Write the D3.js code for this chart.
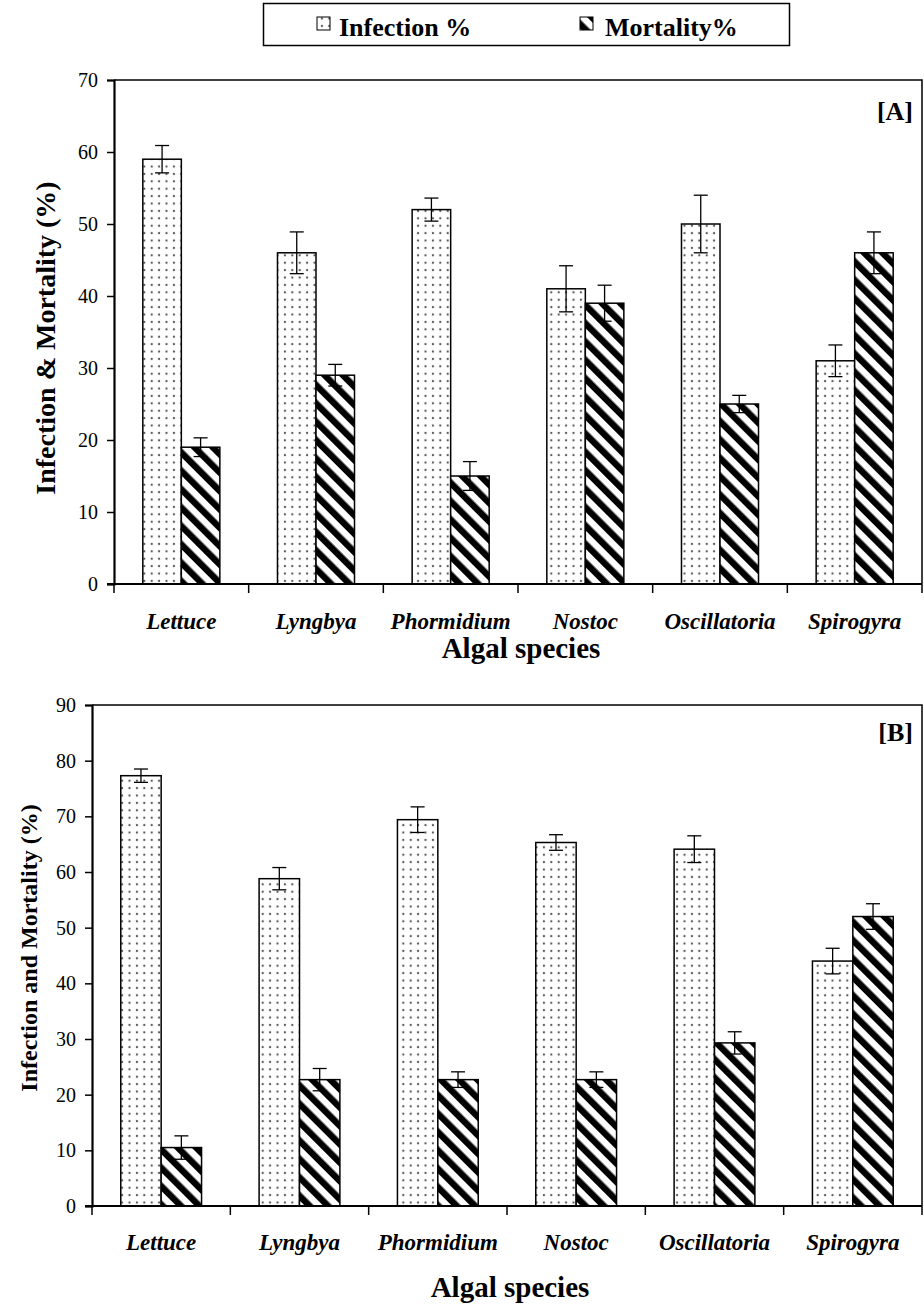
<!DOCTYPE html>
<html>
<head>
<meta charset="utf-8">
<script src="https://cdn.jsdelivr.net/npm/d3@7"></script>
<style>
  html, body { margin: 0; padding: 0; background: #fff; }
  svg { display: block; }
</style>
</head>
<body>
<svg id="chart" width="924" height="1309"></svg>
<script>
// Algal species tested
const species = ["Lettuce", "Lyngbya", "Phormidium", "Nostoc", "Oscillatoria", "Spirogyra"];

// Panel A values (%) and error half-widths
const infectionA = [59, 46, 52, 41, 50, 31];
const infectionErrA = [1.9, 2.9, 1.6, 3.2, 4.0, 2.2];
const mortalityA = [19, 29, 15, 39, 25, 46];
const mortalityErrA = [1.3, 1.5, 2.0, 2.5, 1.2, 2.9];
const ticksA = [0, 10, 20, 30, 40, 50, 60, 70];

// Panel B values (%) and error half-widths
const infectionB = [77.3, 58.8, 69.4, 65.3, 64.1, 44.0];
const infectionErrB = [1.2, 2.0, 2.3, 1.4, 2.4, 2.3];
const mortalityB = [10.5, 22.7, 22.7, 22.7, 29.3, 52.0];
const mortalityErrB = [2.1, 2.0, 1.4, 1.4, 2.0, 2.3];
const ticksB = [0, 10, 20, 30, 40, 50, 60, 70, 80, 90];

const seriesNames = ["Infection %", "Mortality%"];

const FONT = "'Liberation Serif'";

const svg = d3.select("#chart");
const defs = svg.append("defs");

// Dotted fill for infection bars
const dots = defs.append("pattern")
  .attr("id", "dots").attr("patternUnits", "userSpaceOnUse")
  .attr("width", 7.4).attr("height", 7.4);
dots.append("rect").attr("width", 7.4).attr("height", 7.4).attr("fill", "#fff");
dots.append("circle").attr("cx", 3.7).attr("cy", 3.7).attr("r", 1.15).attr("fill", "#5a5a5a");

// Wide diagonal stripes for mortality bars
const hatch = defs.append("pattern")
  .attr("id", "hatch").attr("patternUnits", "userSpaceOnUse")
  .attr("width", 13).attr("height", 13)
  .attr("patternTransform", "rotate(-45)");
hatch.append("rect").attr("width", 13).attr("height", 13).attr("fill", "#fff");
hatch.append("rect").attr("x", 0).attr("width", 6.5).attr("height", 13).attr("fill", "#000");

// Legend
const legend = svg.append("g");
legend.append("rect").attr("x", 263.5).attr("y", 3.5).attr("width", 526).attr("height", 42)
  .attr("fill", "#fff").attr("stroke", "#000").attr("stroke-width", 1.5);
const legendItems = [
  { name: seriesNames[0], fill: "url(#dots)", sx: 317, tx: 339 },
  { name: seriesNames[1], fill: "url(#hatch)", sx: 580, tx: 605 }
];
legendItems.forEach(d => {
  legend.append("rect").attr("x", d.sx).attr("y", 17).attr("width", 13).attr("height", 13)
    .attr("fill", d.fill).attr("stroke", "#000").attr("stroke-width", 1);
  legend.append("text").attr("x", d.tx).attr("y", 36)
    .style("font-family", FONT)
    .attr("font-size", 26).attr("font-weight", "bold").text(d.name);
});

function panel(opts) {
  const { left, right, top, bottom, max, ticks, inf, infErr, mort, mortErr, label, ytitle, ytitleX, ytitleSize, catY, xtitleY, barFrac } = opts;
  const g = svg.append("g");

  const x = d3.scaleBand().domain(species).range([left, right]).paddingInner(0).paddingOuter(0);
  const y = d3.scaleLinear().domain([0, max]).range([bottom, top]);
  const bw = x.bandwidth() * barFrac;

  // frame: top and right edges
  g.append("path")
    .attr("d", `M${left},${top}H${right}V${bottom}`)
    .attr("fill", "none").attr("stroke", "#000").attr("stroke-width", 1.5);

  const series = [
    { vals: inf, errs: infErr, fill: "url(#dots)", off: -bw },
    { vals: mort, errs: mortErr, fill: "url(#hatch)", off: 0 }
  ];

  series.forEach(s => {
    g.selectAll(null).data(species).enter().append("rect")
      .attr("x", d => x(d) + x.bandwidth() / 2 + s.off)
      .attr("y", (d, i) => y(s.vals[i]))
      .attr("width", bw)
      .attr("height", (d, i) => y(0) - y(s.vals[i]))
      .attr("fill", s.fill).attr("stroke", "#000").attr("stroke-width", 1.5);
  });

  // error bars
  series.forEach(s => {
    species.forEach((d, i) => {
      const cx = x(d) + x.bandwidth() / 2 + s.off + bw / 2;
      const y1 = y(s.vals[i] + s.errs[i]), y2 = y(s.vals[i] - s.errs[i]);
      const eg = g.append("g").attr("stroke", "#000").attr("stroke-width", 1.3);
      eg.append("line").attr("x1", cx).attr("x2", cx).attr("y1", y1).attr("y2", y2);
      eg.append("line").attr("x1", cx - 7).attr("x2", cx + 7).attr("y1", y1).attr("y2", y1);
      eg.append("line").attr("x1", cx - 7).attr("x2", cx + 7).attr("y1", y2).attr("y2", y2);
    });
  });

  // y axis
  const yAxis = g.append("g").attr("transform", `translate(${left},0)`)
    .call(d3.axisLeft(y).tickValues(ticks).tickSize(7).tickPadding(9).tickFormat(d3.format("d")));
  yAxis.attr("font-family", null);
  yAxis.select(".domain").attr("stroke-width", 2.2);
  yAxis.selectAll(".tick line").attr("stroke-width", 1.5);
  yAxis.selectAll("text").attr("font-size", 20).style("font-family", FONT).attr("fill", "#000");

  // x axis with boundary ticks between categories
  const xb = g.append("g").attr("transform", `translate(0,${bottom})`);
  xb.append("line").attr("x1", left - 7).attr("x2", right).attr("stroke", "#000").attr("stroke-width", 2.2);
  const bounds = species.map(d => x(d)).concat([right]);
  xb.selectAll(null).data(bounds).enter().append("line")
    .attr("x1", d => d).attr("x2", d => d).attr("y1", 0).attr("y2", 9)
    .attr("stroke", "#000").attr("stroke-width", 1.5);

  g.selectAll(null).data(species).enter().append("text")
    .attr("x", d => x(d) + x.bandwidth() / 2).attr("y", catY)
    .attr("text-anchor", "middle").attr("font-size", 23).style("font-family", FONT)
    .attr("font-weight", "bold").attr("font-style", "italic").text(d => d);

  g.append("text").attr("x", (left + right) / 2 + 3).attr("y", xtitleY)
    .attr("text-anchor", "middle").attr("font-size", 29).style("font-family", FONT)
    .attr("font-weight", "bold").text("Algal species");

  g.append("text").attr("transform", `translate(${ytitleX},${opts.ytitleY}) rotate(-90)`)
    .attr("text-anchor", "middle").attr("font-size", ytitleSize).style("font-family", FONT)
    .attr("font-weight", "bold").text(ytitle);

  g.append("text").attr("x", right - 9).attr("y", opts.labelY)
    .attr("text-anchor", "end").attr("font-size", 26).style("font-family", FONT)
    .attr("font-weight", "bold").text(label);
}

panel({
  left: 114, right: 922, top: 80, bottom: 584, max: 70, ticks: ticksA,
  inf: infectionA, infErr: infectionErrA, mort: mortalityA, mortErr: mortalityErrA,
  label: "[A]", labelY: 120, ytitle: "Infection & Mortality (%)", ytitleX: 55, ytitleY: 338, ytitleSize: 28,
  catY: 629, xtitleY: 658, barFrac: 0.286
});

panel({
  left: 92, right: 922, top: 705, bottom: 1206, max: 90, ticks: ticksB,
  inf: infectionB, infErr: infectionErrB, mort: mortalityB, mortErr: mortalityErrB,
  label: "[B]", labelY: 741, ytitle: "Infection and Mortality (%)", ytitleX: 37, ytitleY: 948, ytitleSize: 24,
  catY: 1250, xtitleY: 1297, barFrac: 0.292
});
</script>
</body>
</html>
